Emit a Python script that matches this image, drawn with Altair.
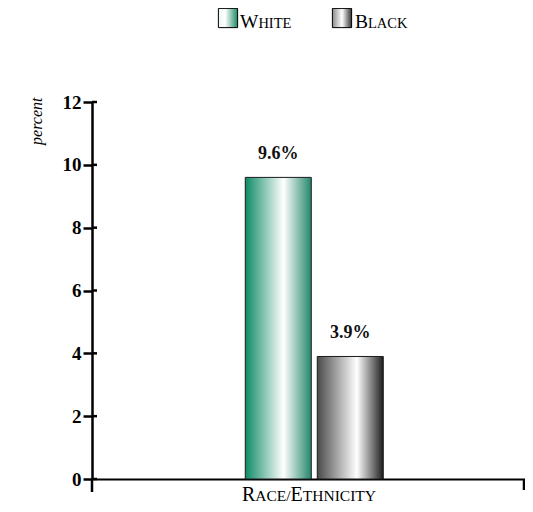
import altair as alt
import pandas as pd

races = ["White", "Black"]
values = [9.6, 3.9]
labels = ["9.6%", "3.9%"]
group = ["Race/Ethnicity", "Race/Ethnicity"]
y_ticks = [0, 2, 4, 6, 8, 10, 12]

df = pd.DataFrame({"group": group, "race": races, "value": values, "label": labels})

W, H = 433, 377
SERIF = "Liberation Serif"


def grad(stops):
    return alt.Gradient(
        gradient="linear",
        stops=[alt.GradientStop(color=c, offset=o) for o, c in stops],
        x1=0, x2=1, y1=0, y2=0,
    )


green_grad = grad([(0, "#0f8a66"), (0.58, "#ffffff"), (1, "#23876a")])
gray_grad = grad([(0, "#4a4a4a"), (0.6, "#ffffff"), (1, "#1e1e1e")])
green_leg = grad([(0, "#eef6f2"), (0.35, "#ffffff"), (1, "#1a8a66")])
gray_leg = grad([(0, "#8a8a8a"), (0.5, "#ffffff"), (1, "#333333")])

x_enc = alt.X(
    "group:N",
    scale=alt.Scale(paddingOuter=1, paddingInner=0, align=0.52),
    axis=alt.Axis(labels=False, ticks=False, title=None, domainColor="black", domainWidth=2),
)
xoff_enc = alt.XOffset("race:N", sort=races, scale=alt.Scale(paddingInner=0.0833, paddingOuter=0.044))
y_enc = alt.Y(
    "value:Q",
    scale=alt.Scale(domain=[0, 12], nice=False),
    axis=alt.Axis(
        values=y_ticks, grid=False, tickSize=9, tickWidth=2.5, tickColor="black",
        domainColor="black", domainWidth=2.5,
        labelFont=SERIF, labelFontWeight="bold", labelFontSize=19, labelColor="black",
        labelPadding=2,
        title="percent", titleFont=SERIF, titleFontStyle="italic", titleFontWeight="normal",
        titleFontSize=16, titleColor="black", titleAngle=270, titleAlign="right",
        titleAnchor="end", titleX=-51, titleY=-5, titleBaseline="alphabetic",
    ),
)

base = alt.Chart(df).encode(x=x_enc, xOffset=xoff_enc, y=y_enc)

bar_white = base.transform_filter(alt.datum.race == "White").mark_bar(
    fill=green_grad, stroke="#1a1a1a", strokeWidth=1
)
bar_black = base.transform_filter(alt.datum.race == "Black").mark_bar(
    fill=gray_grad, stroke="#1a1a1a", strokeWidth=1
)
bar_text = base.mark_text(
    font=SERIF, fontWeight="bold", fontSize=18, color="#111", dy=-14, baseline="bottom"
).encode(text="label:N")

one = pd.DataFrame({"a": [0]})

# inner halves of the y ticks (ticks cross the axis)
inner_ticks = alt.Chart(pd.DataFrame({"t": y_ticks})).mark_rule(color="black", strokeWidth=2.5).encode(
    y=alt.Y("t:Q", scale=alt.Scale(domain=[0, 12], nice=False)), x=alt.value(0), x2=alt.value(5)
)

# x-axis end ticks
end_ticks = alt.Chart(one).mark_rule(color="black", strokeWidth=2.5).encode(
    x=alt.value(0), y=alt.value(H), y2=alt.value(H + 13)
) + alt.Chart(one).mark_rule(color="black", strokeWidth=2.5).encode(
    x=alt.value(W - 1), y=alt.value(H), y2=alt.value(H + 11)
)


def txt(s, x, y, size):
    return alt.Chart(one).mark_text(
        text=s, font=SERIF, fontSize=size, color="black", align="left", baseline="alphabetic"
    ).encode(x=alt.value(x), y=alt.value(y))


# x-axis title in small caps
xt_y = 399
x0 = 150
title_parts = [
    txt("R", x0, xt_y, 20),
    txt("ACE/", x0 + 13.3, xt_y, 15.5),
    txt("E", x0 + 13.3 + 35.3, xt_y, 20),
    txt("THNICITY", x0 + 13.3 + 35.3 + 12.2, xt_y, 15.5),
]

# legend
leg_y = -74
legend = [
    alt.Chart(one).mark_square(size=370, fill=green_leg, stroke="black", strokeWidth=1, opacity=1).encode(
        x=alt.value(136), y=alt.value(-84)
    ),
    txt("W", 148, leg_y, 19.5),
    txt("HITE", 148 + 18.4, leg_y, 14.5),
    alt.Chart(one).mark_square(size=370, fill=gray_leg, stroke="black", strokeWidth=1, opacity=1).encode(
        x=alt.value(250), y=alt.value(-84)
    ),
    txt("B", 263, leg_y, 19.5),
    txt("LACK", 263 + 13.0, leg_y, 14.5),
]

chart = alt.layer(
    bar_white, bar_black, bar_text, inner_ticks, end_ticks, *title_parts, *legend
).properties(
    width=W, height=H,
    autosize=alt.AutoSizeParams(type="none"),
    padding={"left": 84, "top": 94, "right": 0, "bottom": 27},
).configure(background="white").configure_view(stroke=None, strokeWidth=0)

chart.save("out.html", embed_options={"renderer": "svg", "actions": False})
